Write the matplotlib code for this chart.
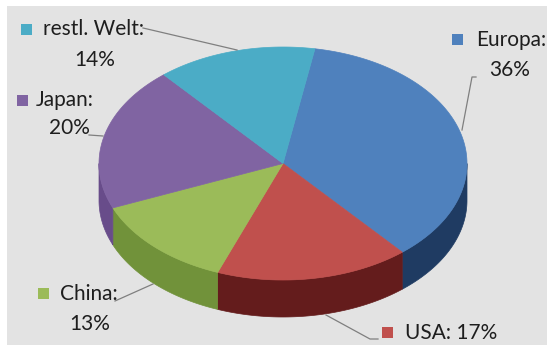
import numpy as np
import matplotlib.pyplot as plt
from matplotlib.patches import Polygon, Rectangle

# Market shares by region (percent), slices run clockwise from the top
categories = ["Europa", "USA", "China", "Japan", "restl. Welt"]
shares = [36, 17, 13, 20, 14]
top_colors = ["#4f81bd", "#c0504d", "#9bbb59", "#8064a2", "#4bacc6"]
side_colors = ["#1f3b62", "#641c1c", "#71923a", "#684c8a", "#2f7f95"]

FIRST_SLICE_DEG = 10.0
CX, CY, RX, RY, DEPTH = 283.0, 163.5, 184.0, 116.5, 37.0

FONT = ["Lato", "DejaVu Sans"]
TEXT_COLOR = "#1e1e1e"
FS = 15


def rim(theta_deg, drop=0.0):
    t = np.radians(theta_deg)
    return CX + RX * np.sin(t), CY - RY * np.cos(t) + drop


fig = plt.figure(figsize=(5.47, 3.55), dpi=100)
ax = fig.add_axes([0, 0, 1, 1])
ax.set_xlim(0, 547)
ax.set_ylim(355, 0)
ax.axis("off")
fig.patch.set_facecolor("white")

# chart area background
ax.add_patch(Rectangle((7, 6), 547, 339, facecolor="#e3e3e3", edgecolor="none", zorder=0))

# slice angle ranges
fractions = np.array(shares, dtype=float) / np.sum(shares)
ends = FIRST_SLICE_DEG + np.cumsum(fractions) * 360.0
starts = ends - fractions * 360.0

# visible side walls (front half of the disc: 90..270 deg)
for s, e, col in zip(starts, ends, side_colors):
    lo, hi = max(s, 90.0), min(e, 270.0)
    if hi <= lo:
        continue
    th = np.linspace(lo, hi, 80)
    xt, yt = rim(th)
    xb, yb = rim(th[::-1], DEPTH)
    pts = np.column_stack([np.concatenate([xt, xb]), np.concatenate([yt, yb])])
    ax.add_patch(Polygon(pts, closed=True, facecolor=col, edgecolor=col, lw=0.5, zorder=2))

# top faces
for s, e, col in zip(starts, ends, top_colors):
    th = np.linspace(s, e, 120)
    xt, yt = rim(th)
    pts = np.column_stack([np.concatenate([[CX], xt]), np.concatenate([[CY], yt])])
    ax.add_patch(Polygon(pts, closed=True, facecolor=col, edgecolor=col, lw=0.5, zorder=3))

# leader lines
LINE = dict(color="#7f7f7f", lw=0.9, zorder=4)
ax.plot([143, 237], [28, 50], **LINE)
ax.plot([476, 472, 462], [77, 77, 130], **LINE)
ax.plot([89, 103], [135, 136], **LINE)
ax.plot([115, 153], [301, 284], **LINE)
ax.plot([378, 370, 326], [339, 339, 315], **LINE)


def label(sq_x, sq_y, text1, tx, ty, text2=None, t2x=None, t2y=None, color="k"):
    ax.add_patch(Rectangle((sq_x, sq_y), 11, 11, facecolor=color, edgecolor="none", zorder=5))
    ax.text(tx, ty, text1, ha="left", va="center", fontsize=FS, family=FONT,
            color=TEXT_COLOR, zorder=5)
    if text2:
        ax.text(t2x, t2y, text2, ha="center", va="center", fontsize=FS, family=FONT,
                color=TEXT_COLOR, zorder=5)


label(21, 24, f"{categories[4]}:", 43, 29, f"{shares[4]}%", 95, 60, color=top_colors[4])
label(17, 95, f"{categories[3]}:", 36, 100, f"{shares[3]}%", 69, 128, color=top_colors[3])
label(452, 34, f"{categories[0]}:", 476, 40, f"{shares[0]}%", 510, 70, color=top_colors[0])
label(38, 288, f"{categories[2]}:", 60, 294, f"{shares[2]}%", 90, 324, color=top_colors[2])
label(382, 327, f"{categories[1]}: {shares[1]}%", 405, 333, color=top_colors[1])

fig.savefig("out.png", dpi=100, facecolor="white")
